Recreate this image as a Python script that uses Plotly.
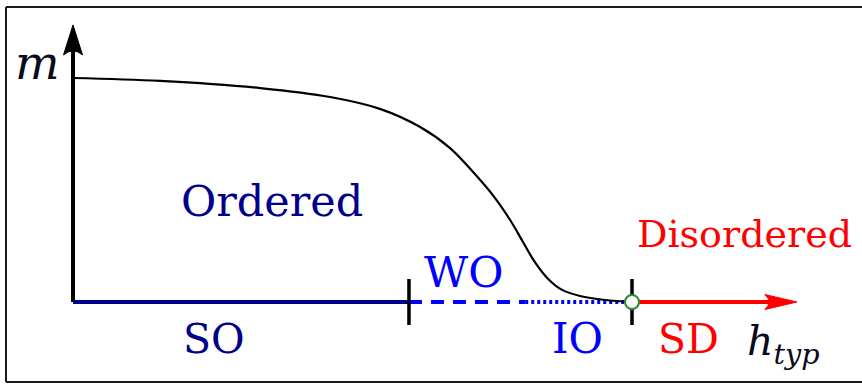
import plotly.graph_objects as go

# Order parameter m versus typical field h_typ (h in units of the critical field h_c)
h_curve = [0.0, 0.156, 0.335, 0.460, 0.549, 0.621, 0.674, 0.719, 0.755, 0.782,
           0.805, 0.826, 0.850, 0.875, 0.907, 0.952, 1.0]
m_curve = [1.0, 0.987, 0.955, 0.915, 0.862, 0.781, 0.688, 0.571, 0.464, 0.366,
           0.268, 0.179, 0.103, 0.054, 0.027, 0.009, 0.0]

# Phase boundaries along the h axis
h_so_wo = 0.601
h_wo_io = 0.809
h_c = 1.0
h_axis_end = 1.295
m_axis_end = 1.237

W, H = 862, 384
# axis frame: origin sits at pixel (73, 302); 559 px per unit h, 224 px per unit m
X0, Y0, SX, SY = 73, 302, 559.0, 224.0
x_range = [(0 - X0) / SX, (W - X0) / SX]
y_range = [(Y0 - H) / SY, (Y0 - 0) / SY]


def hx(px):
    return (px - X0) / SX


def my(py):
    return (Y0 - py) / SY


dx, dy = 1 / SX, 1 / SY
serif = "'DejaVu Serif', serif"
navy = "#00008B"
blue = "#0000FF"
red = "#FF0000"

fig = go.Figure()

# vertical m axis
fig.add_trace(go.Scatter(x=[0, 0], y=[0, m_axis_end - 22 * dy], mode="lines",
                         line=dict(color="black", width=4), hoverinfo="skip"))
# strongly ordered segment
fig.add_trace(go.Scatter(x=[0, h_so_wo], y=[0, 0], mode="lines",
                         line=dict(color=navy, width=4), hoverinfo="skip"))
# weakly ordered segment (dashed)
fig.add_trace(go.Scatter(x=[h_so_wo, h_wo_io], y=[0, 0], mode="lines",
                         line=dict(color=blue, width=4, dash="13px,9px"), hoverinfo="skip"))
# intermediate ordered segment (dotted)
fig.add_trace(go.Scatter(x=[h_wo_io, h_c], y=[0, 0], mode="lines",
                         line=dict(color=blue, width=4, dash="3px,3px"), hoverinfo="skip"))
# strongly disordered segment
fig.add_trace(go.Scatter(x=[h_c, h_axis_end - 20 * dx], y=[0, 0], mode="lines",
                         line=dict(color=red, width=4), hoverinfo="skip"))

# boundary ticks
for hb in (h_so_wo, h_c):
    fig.add_trace(go.Scatter(x=[hb, hb], y=[-23 * dy, 23 * dy], mode="lines",
                             line=dict(color="black", width=3.5), hoverinfo="skip"))

# order parameter curve
fig.add_trace(go.Scatter(x=h_curve, y=m_curve, mode="lines",
                         line=dict(color="black", width=2.2, shape="spline", smoothing=1.0),
                         hoverinfo="skip"))

# critical point
fig.add_trace(go.Scatter(x=[h_c], y=[0], mode="markers",
                         marker=dict(size=14, color="white", line=dict(color="#2E8B2E", width=2)),
                         hoverinfo="skip"))

shapes = []
# arrowheads
shapes.append(dict(
    type="path", xref="x", yref="y", fillcolor="black", line=dict(color="black", width=1),
    path=(f"M 0,{m_axis_end} L {9.5 * dx},{m_axis_end - 30 * dy} "
          f"Q 0,{m_axis_end - 22 * dy} {-9.5 * dx},{m_axis_end - 30 * dy} Z")))
shapes.append(dict(
    type="path", xref="x", yref="y", fillcolor=red, line=dict(color=red, width=1),
    path=(f"M {h_axis_end},0 L {h_axis_end - 32 * dx},{7.5 * dy} "
          f"Q {h_axis_end - 24 * dx},0 {h_axis_end - 32 * dx},{-7.5 * dy} Z")))
# frame
for x0p, y0p, x1p, y1p in [(6, 7, 6, 382), (6, 7, W, 7), (6, 382, W, 382)]:
    shapes.append(dict(type="line", xref="paper", yref="paper",
                       x0=x0p / W, x1=x1p / W, y0=1 - y0p / H, y1=1 - y1p / H,
                       line=dict(color="#1a1a1a", width=2)))

annotations = []


def label(text, px, py, size, color, xanchor="center"):
    annotations.append(dict(x=hx(px), y=my(py), xref="x", yref="y", text=text,
                            showarrow=False, xanchor=xanchor, yanchor="middle",
                            font=dict(family=serif, size=size, color=color)))


label("<i>m</i>", 37, 62, 47, "#0a0a20")
label("Ordered", 272, 201, 43, navy)
label("Disordered", 744, 234, 38, red)
label("WO", 463, 272, 43, blue)
label("SO", 214, 339, 41, navy)
label("IO", 577, 338, 42, blue)
label("SD", 688, 339, 41, red)
label("<i>h</i><sub><i>typ</i></sub>", 745, 344, 41, "#0a0a20", xanchor="left")

fig.update_layout(
    width=W, height=H, margin=dict(l=0, r=0, t=0, b=0),
    paper_bgcolor="white", plot_bgcolor="white", showlegend=False,
    font=dict(family=serif),
    xaxis=dict(range=x_range, visible=False, fixedrange=True),
    yaxis=dict(range=y_range, visible=False, fixedrange=True),
    shapes=shapes, annotations=annotations,
)

fig.write_html("out.html")
